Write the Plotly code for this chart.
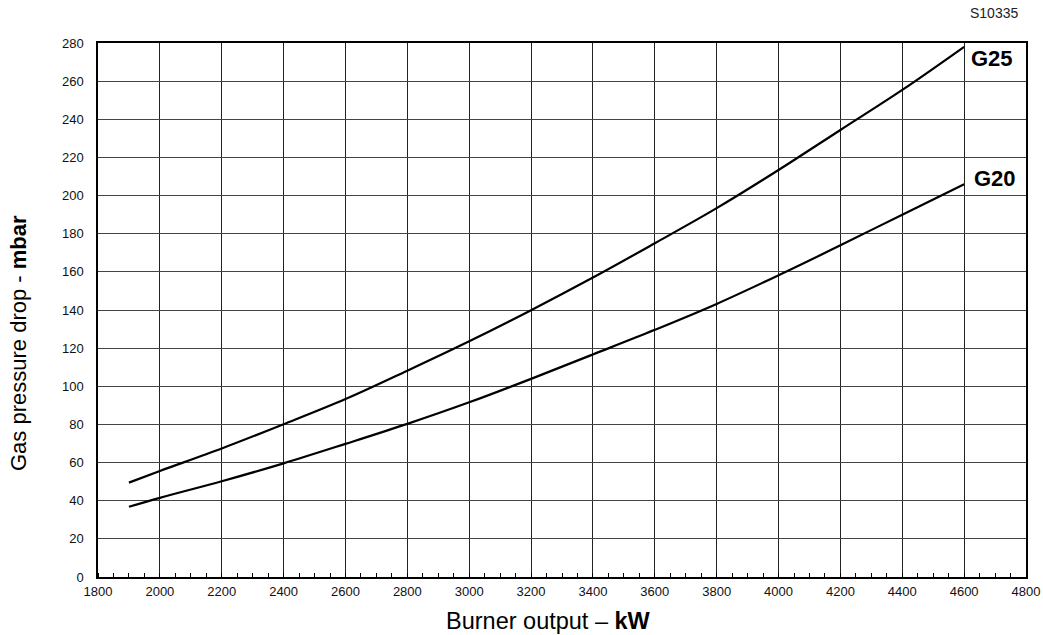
import plotly.graph_objects as go

# Data
burner_output_kw = [1900, 2000, 2200, 2400, 2600, 2800, 3000, 3200, 3400, 3600, 3800, 4000, 4200, 4400, 4600]
g25_mbar = [49.5, 55.6, 67.4, 80.1, 93.3, 108.2, 123.6, 139.9, 157.0, 175.0, 193.4, 213.4, 234.4, 255.4, 278.0]
g20_mbar = [36.8, 41.5, 50.2, 59.6, 69.8, 80.3, 91.6, 103.9, 116.7, 129.6, 143.2, 158.2, 173.9, 190.0, 205.9]
series_names = ["G25", "G20"]
x_ticks = list(range(1800, 4801, 200))
y_ticks = list(range(0, 281, 20))

FONT = "Liberation Sans, Arial, sans-serif"

fig = go.Figure()
for name, vals in zip(series_names, [g25_mbar, g20_mbar]):
    fig.add_trace(go.Scatter(
        x=burner_output_kw, y=vals, mode="lines", name=name,
        line=dict(color="black", width=2.2, shape="spline", smoothing=1.0),
        showlegend=False,
    ))

# Curve labels
label_pos = {"G25": (4615, 272), "G20": (4625, 209)}
for name in series_names:
    lx, ly = label_pos[name]
    fig.add_annotation(x=lx, y=ly, text=f"<b>{name}</b>", showarrow=False,
                       xanchor="left", yanchor="middle",
                       font=dict(family=FONT, size=22, color="black"))

fig.add_annotation(xref="paper", yref="paper", x=1.0, y=1.0, yshift=30,
                   xshift=-6,
                   text="S10335", showarrow=False, xanchor="right", yanchor="middle",
                   font=dict(family=FONT, size=14, color="#222"))

# Axis titles (placed as annotations to match the reference offsets)
fig.add_annotation(xref="paper", yref="paper", x=0.5, y=0, xshift=-14, yshift=-44,
                   text="Burner output – <b>kW</b>", showarrow=False,
                   xanchor="center", yanchor="middle",
                   font=dict(family=FONT, size=23.5, color="black"))
fig.add_annotation(xref="paper", yref="paper", x=0, y=0.5, xshift=-80, yshift=-33,
                   text="Gas pressure drop - <b>mbar</b>", showarrow=False, textangle=-90,
                   xanchor="center", yanchor="middle",
                   font=dict(family=FONT, size=22, color="black"))

fig.update_layout(
    width=1043, height=635,
    margin=dict(l=98, r=17, t=43, b=58, autoexpand=False),
    paper_bgcolor="white", plot_bgcolor="white",
    font=dict(family=FONT, color="black", size=13),
    xaxis=dict(
        range=[1800, 4800], tickvals=x_ticks, ticktext=[str(v) for v in x_ticks],
        showgrid=True, gridcolor="#222", gridwidth=1,
        showline=True, linecolor="black", linewidth=1.5, mirror=True,
        ticks="", ticklabelstandoff=2, zeroline=False,
        tickfont=dict(family=FONT, size=13, color="#111"),
        minor=dict(dtick=50, tick0=1800, ticks="inside", ticklen=4, tickcolor="black", tickwidth=1, showgrid=False),
    ),
    yaxis=dict(
        range=[0, 280], tickvals=y_ticks, ticktext=[str(v) for v in y_ticks],
        showgrid=True, gridcolor="#444", gridwidth=1,
        showline=True, linecolor="black", linewidth=1.5, mirror=True,
        ticks="", ticklabelstandoff=10, zeroline=False,
        tickfont=dict(family=FONT, size=13, color="#111"),
    ),
)

# Remove the default page margin so the figure fills the window exactly
fig.write_html("out.html",
               config={"displayModeBar": False},
               post_script="document.body.style.margin='0';document.body.style.overflow='hidden';")
